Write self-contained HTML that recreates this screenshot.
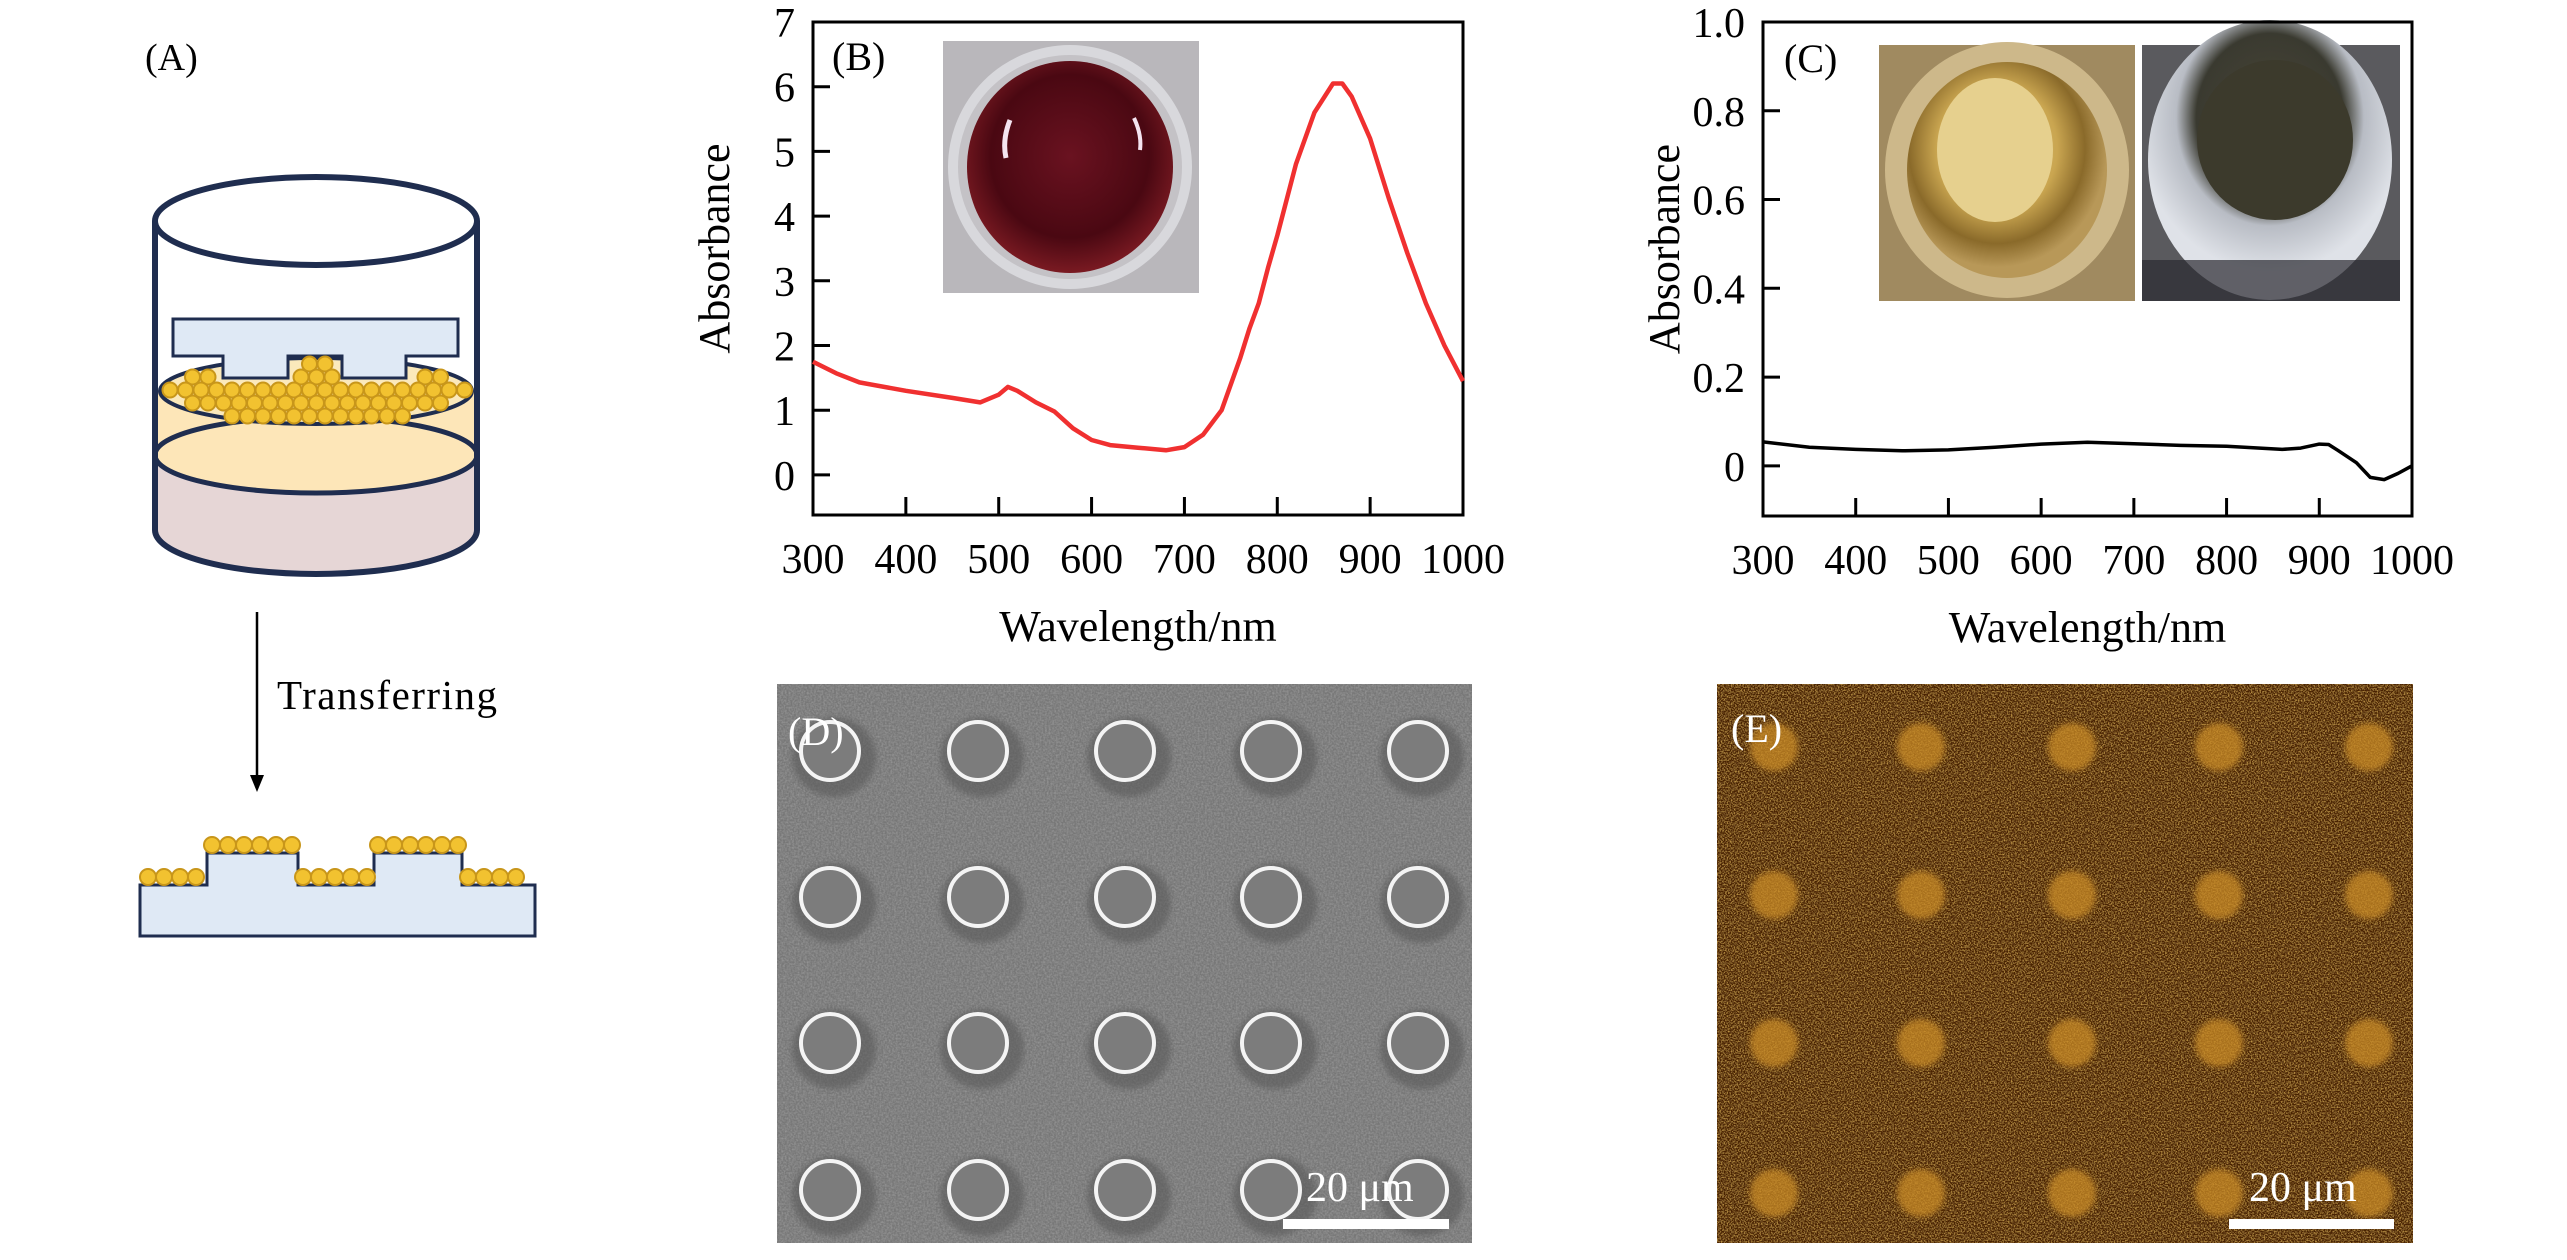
<!DOCTYPE html>
<html><head><meta charset="utf-8"><style>
html,body{margin:0;padding:0;background:#fff;}
svg{display:block;font-family:"Liberation Serif",serif;}
</style></head><body>
<svg id="fig" width="2567" height="1260" viewBox="0 0 2567 1260" xmlns="http://www.w3.org/2000/svg">
<defs>
<filter id="semNoise" x="0" y="0" width="100%" height="100%">
<feTurbulence type="fractalNoise" baseFrequency="0.55" numOctaves="2" seed="3" result="n"/>
<feColorMatrix in="n" type="matrix" values="0 0 0 0 0.42  0 0 0 0 0.42  0 0 0 0 0.42  0.9 0 0 0 -0.3" result="c"/>
<feComposite in="c" in2="SourceGraphic" operator="over"/>
</filter>
<filter id="fluoNoise" x="0" y="0" width="100%" height="100%">
<feTurbulence type="fractalNoise" baseFrequency="0.7" numOctaves="2" seed="7" result="n"/>
<feColorMatrix in="n" type="matrix" values="0 0 0 0 0.85  0 0 0 0 0.5  0 0 0 0 0.1  1.6 0 0 0 -0.7" result="c"/>
<feComposite in="c" in2="SourceGraphic" operator="over"/>
</filter>
<filter id="blur3"><feGaussianBlur stdDeviation="3"/></filter>
<radialGradient id="redWell" cx="50%" cy="45%" r="55%"><stop offset="0" stop-color="#6a1220"/><stop offset="0.7" stop-color="#4a0812"/><stop offset="1" stop-color="#7a1a22"/></radialGradient>
<radialGradient id="goldWell" cx="45%" cy="40%" r="55%"><stop offset="0" stop-color="#e8cf86"/><stop offset="0.55" stop-color="#c9a550"/><stop offset="0.8" stop-color="#8a6a2a"/><stop offset="1" stop-color="#b89858"/></radialGradient>
<radialGradient id="glassWell" cx="50%" cy="35%" r="55%"><stop offset="0" stop-color="#4a4638"/><stop offset="0.55" stop-color="#3a3a30"/><stop offset="0.7" stop-color="#b8bcc4"/><stop offset="1" stop-color="#dfe2e8"/></radialGradient>
</defs>

<!-- Panel A -->
<g>
<text x="145" y="70" font-size="38">(A)</text>
<g stroke="#1f2d4f">
<path d="M155 455 L155 530 A161 44 0 0 0 477 530 L477 455 A161 38 0 0 1 155 455 Z" fill="#e6d6d6" stroke="none"/>
<path d="M155 391 L155 455 A161 38 0 0 0 477 455 L477 391 Z" fill="#fde6b8" stroke="none"/>
<ellipse cx="316" cy="455" rx="161" ry="38" fill="none" stroke-width="5"/>
<path d="M155 221 L155 530 A161 44 0 0 0 477 530 L477 221" fill="none" stroke-width="6"/>
<ellipse cx="316" cy="221" rx="161" ry="44" fill="#fff" stroke-width="6"/>
<ellipse cx="316" cy="391" rx="156" ry="33" fill="#fbe9bb" stroke-width="4"/>
<path d="M173 319 L458 319 L458 356 L406 356 L406 378 L342 378 L342 356 L288 356 L288 378 L223 378 L223 356 L173 356 Z" fill="#dfe9f5" stroke-width="3"/>
<g id="diskParticles"></g>
</g>
<line x1="257" y1="612" x2="257" y2="785" stroke="#000" stroke-width="2.5"/>
<path d="M250 775 L257 792 L264 775 Z" fill="#000"/>
<text x="277" y="709" font-size="41" letter-spacing="1.5">Transferring</text>
<path d="M140 885 L207 885 L207 853 L298 853 L298 885 L374 885 L374 853 L462 853 L462 885 L535 885 L535 936 L140 936 Z" fill="#dfe9f5" stroke="#1f2d4f" stroke-width="3"/>
<g id="subParticles"></g>
</g>

<!-- Panel B -->
<g>
<g>
<rect x="943" y="41" width="256" height="252" fill="#b9b7bb"/>
<circle cx="1070" cy="167" r="122" fill="#d8d8dc"/>
<circle cx="1070" cy="167" r="112" fill="#c4c2c6"/>
<ellipse cx="1070" cy="167" rx="103" ry="106" fill="url(#redWell)"/>
<path d="M1010 120 Q1002 140 1006 158" stroke="#f4e4f0" stroke-width="5" fill="none"/>
<path d="M1134 118 Q1142 135 1140 150" stroke="#f4e4f0" stroke-width="4" fill="none"/>
</g>
<g id="chartB"></g>
<text x="832" y="70" font-size="40">(B)</text>
</g>

<!-- Panel C -->
<g>
<g>
<rect x="1879" y="45" width="256" height="256" fill="#a08a60"/>
<ellipse cx="2007" cy="170" rx="122" ry="128" fill="#cdb88a"/>
<ellipse cx="2007" cy="170" rx="100" ry="108" fill="url(#goldWell)"/>
<ellipse cx="1995" cy="150" rx="58" ry="72" fill="#e6d08e"/>
</g>
<g>
<rect x="2142" y="45" width="258" height="256" fill="#5a5a5e"/>
<ellipse cx="2270" cy="160" rx="122" ry="140" fill="url(#glassWell)"/>
<ellipse cx="2275" cy="140" rx="78" ry="80" fill="#3c3a2c"/>
<rect x="2142" y="260" width="258" height="41" fill="#2a2a30" opacity="0.7"/>
</g>
<g id="chartC"></g>
<text x="1784" y="72" font-size="40">(C)</text>
</g>

<!-- Panel D -->
<g>
<rect x="777" y="684" width="695" height="559" fill="#777" filter="url(#semNoise)"/>
<g id="semPillars"></g>
<text x="788" y="745" font-size="40" fill="#fff">(D)</text>
<text x="1306" y="1201" font-size="42" fill="#fff">20 μm</text>
<rect x="1283" y="1219" width="166" height="10" fill="#fff"/>
</g>

<!-- Panel E -->
<g>
<rect x="1717" y="684" width="696" height="559" fill="#4a2006" filter="url(#fluoNoise)"/>
<g id="fluoSpots"></g>
<text x="1731" y="742" font-size="40" fill="#fff">(E)</text>
<text x="2249" y="1201" font-size="42" fill="#fff">20 μm</text>
<rect x="2229" y="1219" width="165" height="10" fill="#fff"/>
</g>
</svg>

<script>
// ---- Chart data ----
const wlB = [300,325,350,400,450,480,500,510,520,540,560,580,600,620,650,680,700,720,740,760,770,780,790,800,820,840,860,870,880,900,920,940,960,980,1000];
const absB = [1.75,1.57,1.43,1.30,1.19,1.12,1.24,1.36,1.30,1.12,0.98,0.72,0.54,0.46,0.42,0.38,0.43,0.62,1.00,1.80,2.26,2.65,3.20,3.70,4.80,5.60,6.05,6.05,5.85,5.20,4.28,3.43,2.65,2.00,1.45];
const wlC = [300,350,400,450,500,550,600,650,700,750,800,860,880,900,910,920,940,955,970,985,1000];
const absC = [0.054,0.042,0.037,0.034,0.036,0.042,0.049,0.053,0.050,0.046,0.044,0.037,0.040,0.049,0.048,0.035,0.007,-0.026,-0.031,-0.017,0.0];
const xTicks = [300,400,500,600,700,800,900,1000];
const yTicksB = [0,1,2,3,4,5,6,7];
const yTicksC = [0,0.2,0.4,0.6,0.8,1.0];
const yTickLabelsC = ["0","0.2","0.4","0.6","0.8","1.0"];

const NS = "http://www.w3.org/2000/svg";
function mk(tag, attrs, parent){const e=document.createElementNS(NS,tag);for(const k in attrs)e.setAttribute(k,attrs[k]);if(parent)parent.appendChild(e);return e;}

function drawChart(gid, box, yMin, yMax, yTicks, yLabels, xs, ys, color, key){
  const g=document.getElementById(gid);
  const sx=v=>box.l+(v-300)/(1000-300)*(box.r-box.l);
  const sy=v=>box.b-(v-yMin)/(yMax-yMin)*(box.b-box.t);
  const frame=mk('rect',{x:box.l,y:box.t,width:box.r-box.l,height:box.b-box.t,fill:'none',stroke:'#000','stroke-width':3},g);
  
  
  xTicks.forEach(v=>{
    const x=sx(v);
    if(v>300&&v<1000){const t=mk('line',{x1:x,x2:x,y1:box.b,y2:box.b-18,stroke:'#000','stroke-width':3},g);
      
      }
    const lb=mk('text',{x:x,y:box.b+58,'font-size':42,'text-anchor':'middle'},g);
    lb.textContent=v;
    
    
  });
  yTicks.forEach((v,i)=>{
    const y=sy(v);
    if(v>yMin&&v<yMax){const t=mk('line',{x1:box.l,x2:box.l+17,y1:y,y2:y,stroke:'#000','stroke-width':3},g);
      
      }
    const lb=mk('text',{x:box.l-18,y:y+15,'font-size':42,'text-anchor':'end'},g);
    lb.textContent=yLabels[i];
    
    
  });
  const pts=xs.map((v,i)=>sx(v).toFixed(1)+','+sy(ys[i]).toFixed(1));
  const line=mk('polyline',{points:pts.join(' '),fill:'none',stroke:color,'stroke-width':color==='#000'?3.5:4.5,'stroke-linejoin':'round'},g);
  
  
  const xt=mk('text',{x:(box.l+box.r)/2,y:box.b+126,'font-size':44,'text-anchor':'middle'},g);
  xt.textContent='Wavelength/nm';
  
  
  const yx=box.l-84, yy=(box.t+box.b)/2-20;
  const yt=mk('text',{x:yx,y:yy,'font-size':44,'text-anchor':'middle',transform:'rotate(-90 '+yx+' '+yy+')'},g);
  yt.textContent='Absorbance';
  
  
}
drawChart('chartB',{l:813,r:1463,t:22,b:515},-0.62,7,yTicksB,yTicksB.map(String),wlB,absB,'#f03030','chart-b');
drawChart('chartC',{l:1763,r:2412,t:22,b:516},-0.113,1.0,yTicksC,yTickLabelsC,wlC,absC,'#000','chart-c');

// ---- Illustration particles (panel A) ----
const dp=document.getElementById('diskParticles');
for(let row=0;row<5;row++){
  for(let i=0;i<20;i++){
    const x=170+i*15.5+(row%2)*7, y=364+row*13;
    const dx=(x-316)/150, dy=(y-391)/31;
    if(dx*dx+dy*dy>1)continue;
    if(y<386 && ((x>215&&x<296)||(x>334&&x<414)))continue;
    const c=mk('circle',{cx:x,cy:y,r:7.5,fill:'#f2c230',stroke:'#c8961a','stroke-width':2},dp);
    
    
  }
}
const sp=document.getElementById('subParticles');
[[148,200,877],[212,296,845],[303,372,877],[378,460,845],[468,530,877]].forEach(s=>{
  for(let x=s[0];x<=s[1];x+=16){
    const c=mk('circle',{cx:x,cy:s[2],r:8,fill:'#f2c230',stroke:'#c8961a','stroke-width':2},sp);
    
    
  }
});

// ---- Image panels ----
const semCols=[830,978,1125,1271,1418], semRows=[751,897,1043,1190];
const sg=document.getElementById('semPillars');
semRows.forEach(y=>semCols.forEach(x=>{
  mk('ellipse',{cx:x+4,cy:y+6,rx:42,ry:40,fill:'#5a5a5a',opacity:0.6,filter:'url(#blur3)'},sg);
  mk('ellipse',{cx:x,cy:y,rx:30,ry:30,fill:'#7c7c7c'},sg);
  const c=mk('ellipse',{cx:x,cy:y,rx:29,ry:29,fill:'none',stroke:'#f4f4f4','stroke-width':4},sg);
  
  
}));
const fCols=[1774,1921,2072,2219,2369], fRows=[747,895,1043,1193];
const fg=document.getElementById('fluoSpots');
fRows.forEach(y=>fCols.forEach(x=>{
  const c=mk('circle',{cx:x,cy:y,r:24,fill:'#c88a28',opacity:0.75,filter:'url(#blur3)'},fg);
  
  
}));
</script>
</body></html>
